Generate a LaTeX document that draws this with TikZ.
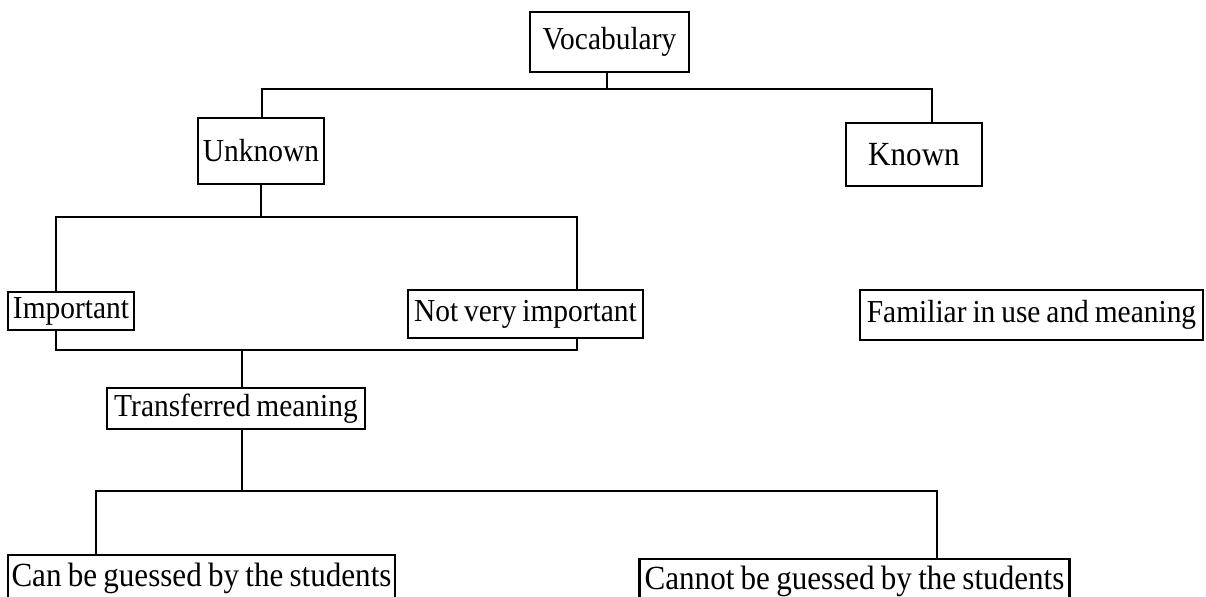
\documentclass[tikz,border=0pt]{standalone}
\usepackage{fontspec}
\setmainfont{Liberation Serif}[WordSpace=0.8,FakeStretch=0.92]
\begin{document}
\begin{tikzpicture}[x=0.5pt,y=-0.5pt,
  box/.style={draw=black,line width=1.4pt,inner sep=0pt,align=center,
    font=\fontsize{16}{19}\selectfont},
  bigbox/.style={box,font=\fontsize{16.9}{20}\selectfont},
  conn/.style={draw=black,line width=1.4pt}]
\useasboundingbox (0,0) rectangle (1206,596);
% nodes
\node[box,minimum width=159*0.5pt,minimum height=60*0.5pt] (voc) at (609.5,42) {Vocabulary};
\node[box,minimum width=126*0.5pt,minimum height=66*0.5pt] (unk) at (261,151) {Unknown};
\node[bigbox,minimum width=136*0.5pt,minimum height=63*0.5pt] (kno) at (914,154.5) {Known};
\node[box,minimum width=126*0.5pt,minimum height=38*0.5pt] (imp) at (71,311) {Important};
\node[box,minimum width=235*0.5pt,minimum height=48*0.5pt] (nvi) at (525.5,314) {Not very important};
\node[box,minimum width=343*0.5pt,minimum height=50*0.5pt] (fam) at (1031.5,315) {Familiar in use and meaning};
\node[box,minimum width=258*0.5pt,minimum height=41*0.5pt] (tra) at (236,408.5) {Transferred meaning};
\node[bigbox,minimum width=387*0.5pt,minimum height=46*0.5pt] (can) at (201.5,578) {Can be guessed by the students};
\node[bigbox,minimum width=430*0.5pt,minimum height=44*0.5pt] (cnt) at (854.5,581) {Cannot be guessed by the students};
% junction coordinates
\coordinate (b1) at (607,89);
\coordinate (bl) at (262,89);
\coordinate (br) at (932,89);
\coordinate (b2) at (261,217);
\coordinate (p1) at (56,217);
\coordinate (p2) at (577,217);
\coordinate (q1) at (56,350);
\coordinate (q2) at (577,350);
\coordinate (q3) at (242,350);
\coordinate (r1) at (96,491);
\coordinate (r2) at (937,491);
\coordinate (r3) at (242,491);
% connectors
\draw[conn] (voc.south -| b1) -- (b1);
\draw[conn] (bl |- unk.north) -- (bl) -- (br) -- (br |- kno.north);
\draw[conn] (unk.south -| b2) -- (b2);
\draw[conn] (p1 |- imp.north) -- (p1) -- (p2) -- (p2 |- nvi.north);
\draw[conn] (p1 |- imp.south) -- (q1) -- (q2) -- (p2 |- nvi.south);
\draw[conn] (q3) -- (q3 |- tra.north);
\draw[conn] (tra.south -| r3) -- (r3);
\draw[conn] (r1 |- can.north) -- (r1) -- (r2) -- (r2 |- cnt.north);
\end{tikzpicture}
\end{document}
